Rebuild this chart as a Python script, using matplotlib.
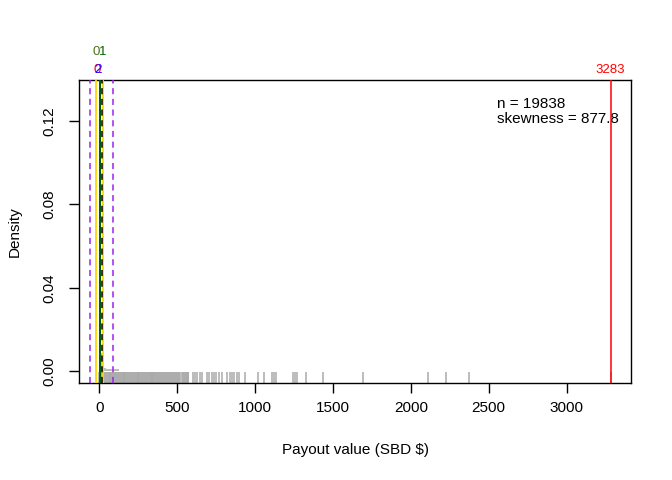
import matplotlib
matplotlib.use("Agg")
import matplotlib.pyplot as plt
import matplotlib.transforms as mtransforms

plt.rcParams['font.family'] = ['Liberation Sans', 'DejaVu Sans']

# payout values seen on the rug (SBD $)
rug_dense = [0, 5, 11, 17, 23, 29, 35, 41, 47, 53, 59, 65, 71, 77, 83, 89, 95, 101,
             107, 113, 119, 125, 131, 137, 143, 149, 155, 161, 167, 173, 179, 185,
             191, 197, 203, 209, 215, 221, 227, 233, 239, 245, 251, 257, 263, 269,
             275, 281, 287, 293, 299, 305, 311, 317, 323, 329, 335, 341, 347, 353,
             359, 365, 371, 377, 384,
             392, 398, 404, 410, 416, 422, 428, 434, 440, 446, 452, 458, 464, 470, 476,
             486, 492, 498, 504, 510, 516,
             530, 536, 542, 548, 554, 560, 566, 572]
rug_sparse = [604, 617, 630, 643, 660, 688, 703, 720, 735, 748, 765, 789, 821, 837,
              852, 867, 884, 897, 934, 1020, 1059, 1111, 1124, 1134, 1244, 1259, 1272,
              1328, 1436, 1695, 2111, 2227, 2376, 3283]

# histogram near zero (bin edges, density)
hist_left = [0, 8, 16, 24, 40]
hist_right = [8, 16, 24, 40, 128]
hist_dens = [0.123, 0.0088, 0.0022, 0.0015, 0.0008]

# reference lines
n_obs = 19838
skew = 877.8
max_val = 3283
purple_sd = [-58, 90]
yellow_q = [-19, 26]
median_val = 1
mode_val = 2
mean_val = 17

fig = plt.figure(figsize=(6.72, 4.8), dpi=100)
ax = fig.add_axes([79/672, 97/480, 552/672, 303/480])

for l, r, d in zip(hist_left, hist_right, hist_dens):
    ax.bar(l, d, width=r - l, align='edge', color='#BEBEBE', edgecolor='none', zorder=1)

trans = mtransforms.blended_transform_factory(ax.transData, ax.transAxes)
ax.vlines(rug_dense + rug_sparse, 0, 0.036, transform=trans, color='#A9A9A9', lw=1.1, zorder=2)

for v in purple_sd:
    ax.axvline(v, color='#A020F0', ls=(0, (4, 3)), lw=1.1, zorder=3)
for v in yellow_q:
    ax.axvline(v, color='gold', lw=1.3, zorder=3)
ax.axvline(median_val, color='blue', lw=1.3, zorder=4)
ax.axvline(mode_val, color='darkgreen', lw=1.3, zorder=4)
ax.axvline(mean_val, color='black', ls=(0, (4, 3)), lw=1.1, zorder=5)
ax.axvline(max_val, color='red', lw=1.1, zorder=5)

# value labels above the plot
fs = 9.5
ax.text(-21, 1.092, '0', transform=trans, color='#4F6F10', fontsize=fs, ha='center', va='center')
ax.text(21, 1.092, '1', transform=trans, color='darkgreen', fontsize=fs, ha='center', va='center')
ax.text(-12, 1.033, '0', transform=trans, color='red', fontsize=fs, ha='center', va='center')
ax.text(-12, 1.033, '2', transform=trans, color='#A020F0', fontsize=fs, ha='center', va='center')
ax.text(-10, 1.033, '2', transform=trans, color='blue', fontsize=fs, ha='center', va='center', alpha=0.7)
ax.text(max_val, 1.033, str(max_val), transform=trans, color='red', fontsize=fs, ha='center', va='center')

ax.text(2555, 0.1245, 'n = %d\nskewness = %.1f' % (n_obs, skew), fontsize=11,
        ha='left', va='center', linespacing=1.1)

ax.set_xlim(-131, 3414)
ax.set_ylim(-0.0057, 0.1397)
ax.set_xticks([0, 500, 1000, 1500, 2000, 2500, 3000])
ax.set_yticks([0.00, 0.04, 0.08, 0.12])
ax.set_yticklabels(['0.00', '0.04', '0.08', '0.12'], rotation=90, va='center')
ax.tick_params(direction='out', length=7, width=1, labelsize=11)
ax.tick_params(axis='x', pad=6)
ax.tick_params(axis='y', pad=9)
for s in ax.spines.values():
    s.set_linewidth(1)

ax.set_xlabel('Payout value (SBD $)', fontsize=11, labelpad=20)
ax.set_ylabel('Density', fontsize=11, labelpad=15)

fig.savefig('out.png', dpi=100)
